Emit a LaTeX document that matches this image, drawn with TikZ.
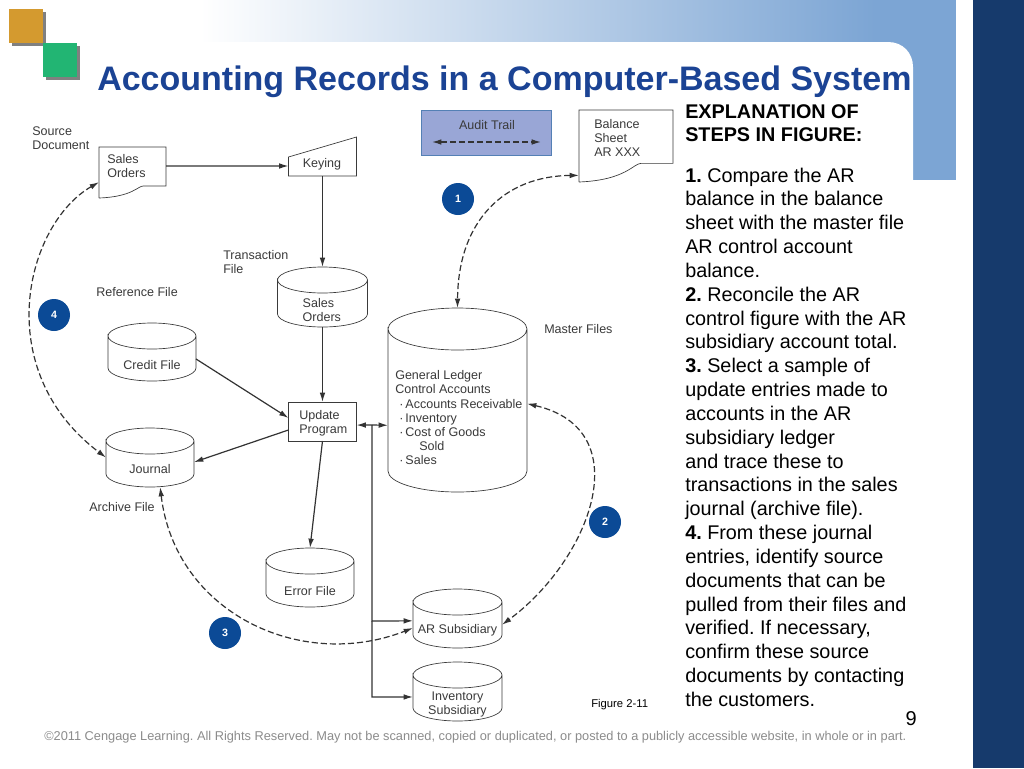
\documentclass[tikz,border=0pt]{standalone}
\usepackage{fontspec}
\setmainfont{Liberation Sans}
\usetikzlibrary{arrows.meta,calc}

\definecolor{barnavy}{HTML}{163A6C}
\definecolor{bandblue}{HTML}{7CA5D4}
\definecolor{titleblue}{HTML}{1B4394}
\definecolor{markblue}{HTML}{0B4A96}
\definecolor{trailblue}{HTML}{99A6D6}
\definecolor{inkgray}{HTML}{3A3A3A}
\definecolor{tileorange}{HTML}{D49A2F}
\definecolor{tilegreen}{HTML}{22B573}

\tikzset{
  figtext/.style={font=\fontsize{9.4}{10.6}\selectfont, text=inkgray, align=left, inner sep=0pt},
  sheet/.style={rectangle, inner sep=0pt, outer sep=0pt, figtext},
  dblabel/.style={figtext},
  boxed/.style={rectangle, draw=inkgray, line width=.7pt, inner sep=0pt, outer sep=0pt},
  outline/.style={draw=inkgray, line width=.5pt},
  flow/.style={-{Latex[length=7pt,width=4.2pt]}, line width=.9pt, draw=black!80},
  audit/.style={flow, dash pattern=on 4.6pt off 2.2pt},
  both/.style={{Latex[length=7pt,width=4.2pt]}-{Latex[length=7pt,width=4.2pt]}},
  stepmark/.style={circle, fill=markblue, text=white, minimum size=24pt, inner sep=0pt,
    font=\fontsize{8}{8}\bfseries\selectfont},
  body/.style={anchor=north west, inner sep=0pt, align=left, text=black,
    font=\fontsize{14.85}{17.87}\selectfont}
}

% outline of a document symbol, #2 is the height of the torn edge
\newcommand{\sheetline}[2]{
  \draw[outline] (#1.south west) -- (#1.north west) -- (#1.north east)
    -- ([yshift=#2]#1.south east) -- ($(#1.south west)!.66!(#1.south east)+(0,#2)$)
    .. controls ($(#1.south west)!.58!(#1.south east)+(0,#2)$)
    and ($(#1.south west)!.50!(#1.south east)+(0,.1*#2)$) .. (#1.south west);
}
% outline of a file drum, #2 and #3 are the radii of its ends
\newcommand{\drumline}[3]{
  \draw[outline] ([yshift=-#3]#1.north west)
    arc[start angle=180, end angle=0, x radius=#2, y radius=#3]
    arc[start angle=0, end angle=-180, x radius=#2, y radius=#3]
    -- ([yshift=#3]#1.south west)
    arc[start angle=180, end angle=360, x radius=#2, y radius=#3]
    -- ([yshift=-#3]#1.north east);
}

\begin{document}
\frenchspacing
\begin{tikzpicture}[x=.75pt,y=-.75pt]
  \useasboundingbox (0,0) rectangle (1024,768);
  \fill[white] (0,0) rectangle (1024,768);

  % slide background
  \fill[barnavy] (973,0) rectangle (1024,768);
  \shade[left color=white, right color=bandblue] (200,0) rectangle (875,41.7);
  \fill[bandblue] (875,0) rectangle (956,180);
  \fill[white] (875,42) -- (888,42) .. controls (903,42) and (913,53) .. (913,67) -- (913,180.5) -- (875,180.5) -- cycle;
  \fill[gray] (11.5,11.5) rectangle (45.5,45.5);
  \fill[tileorange] (9,9) rectangle (43,43);
  \fill[gray] (45.5,45.5) rectangle (79.5,79.5);
  \fill[tilegreen] (43,43) rectangle (77,77);

  \node[anchor=base west, inner sep=0pt, text=titleblue, font=\fontsize{25.5}{30}\bfseries\selectfont]
    (title) at (97,90) {Accounting Records in a Computer-Based System};

  % documents and boxes
  \node[sheet, minimum width=50.25pt, minimum height=38.25pt] (salesdoc) at (132.5,172.5) {};
  \node[sheet, minimum width=70.5pt, minimum height=54pt] (balance) at (626,146) {};
  \sheetline{salesdoc}{9pt}
  \sheetline{balance}{14pt}
  \node[figtext, anchor=north west] (salesdoctext) at (107,154) {Sales\\Orders};
  \node[figtext, anchor=north west] (balancetext) at (594,119) {Balance\\Sheet\\AR XXX};

  \node[sheet, minimum width=51pt, minimum height=29.25pt] (keying) at (322.5,156.5) {};
  \draw[outline] (keying.south west) -- ([yshift=14.25pt]keying.south west)
    -- (keying.north east) -- (keying.south east) -- cycle;
  \node[figtext] (keyingtext) at (322,164) {Keying};

  \node[boxed, minimum width=51pt, minimum height=29.25pt] (update) at (322.5,421.5) {};
  \node[figtext, anchor=north west] (updatetext) at (299,410) {Update\\Program};

  \node[rectangle, fill=trailblue, draw=markblue!70, line width=.5pt, minimum width=97.5pt, minimum height=33.75pt,
    inner sep=0pt] (trail) at (486,132.5) {};
  \node[figtext] (trailtext) at (487,125.5) {Audit Trail};
  \coordinate (trailleft) at (432,142);
  \coordinate (trailright) at (541,142);
  \draw[audit, both] (trailleft) -- (trailright);

  % files
  \node[sheet, minimum width=67.5pt, minimum height=45pt,
    label={[dblabel, yshift=-10pt, xshift=-.5pt]center:Sales\\Orders}] (salesfile) at (322.5,297) {};
  \node[sheet, minimum width=66pt, minimum height=43.5pt,
    label={[dblabel, yshift=-9.5pt]center:Credit File}] (credit) at (152,352) {};
  \node[sheet, minimum width=66pt, minimum height=44.25pt,
    label={[dblabel, yshift=-9pt]center:Journal}] (journal) at (150,457.5) {};
  \node[sheet, minimum width=66pt, minimum height=44.25pt,
    label={[dblabel, yshift=-10pt]center:Error File}] (error) at (310,577.5) {};
  \node[sheet, minimum width=104.25pt, minimum height=138pt] (master) at (457.5,400) {};
  \node[figtext, anchor=north west] (mastertext) at (395,370.5) {General Ledger\\Control Accounts\\
    \hspace{3pt}\textperiodcentered\hspace{1.5pt}Accounts Receivable\\
    \hspace{3pt}\textperiodcentered\hspace{1.5pt}Inventory\\
    \hspace{3pt}\textperiodcentered\hspace{1.5pt}Cost of Goods\\
    \hspace{18pt}Sold\\
    \hspace{3pt}\textperiodcentered\hspace{1.5pt}Sales};
  \node[sheet, minimum width=66.75pt, minimum height=44.25pt,
    label={[dblabel, yshift=-9pt]center:AR Subsidiary}] (arsub) at (457.5,618.5) {};
  \node[sheet, minimum width=66.75pt, minimum height=44.25pt,
    label={[dblabel, yshift=-9.5pt, align=center]center:Inventory\\Subsidiary}] (invsub) at (457.5,691.5) {};
  \drumline{salesfile}{33.75pt}{9.75pt}
  \drumline{credit}{33pt}{9.75pt}
  \drumline{journal}{33pt}{9.75pt}
  \drumline{error}{33pt}{9.75pt}
  \drumline{master}{52.125pt}{15.75pt}
  \drumline{arsub}{33.375pt}{9.75pt}
  \drumline{invsub}{33.375pt}{9.75pt}

  % captions
  \node[figtext, anchor=north west] (capsource) at (32,126) {Source\\Document};
  \node[figtext, anchor=north west] (captrans) at (223,250) {Transaction\\File};
  \node[figtext, anchor=north west] (capref) at (96,287) {Reference File};
  \node[figtext, anchor=north west] (caparchive) at (89,502) {Archive File};
  \node[figtext, anchor=north west] (capmaster) at (544,324) {Master Files};

  % flows
  \draw[flow] ([yshift=4.9pt]salesdoc.east) -- ([yshift=7.5pt]keying.south west);
  \draw[flow] (keying.south) -- (salesfile.north);
  \draw[flow] (salesfile.south) -- (update.north);
  \draw[flow] (credit.-9) -- (update.174);
  \draw[flow] (update.194) -- (journal.-6);
  \draw[flow] (update.south) -- (error.north);
  \coordinate (busstart) at (372,425);
  \coordinate (arjoin) at (372,621);
  \coordinate (invjoin) at (372,697);
  \draw[flow] (busstart) -- (update.-6);
  \draw[flow] (busstart) -- (master.200);
  \draw[flow] (busstart) -- (arjoin) -- (arsub.183);
  \draw[flow] (arjoin) -- (invjoin) -- (invsub.187);

  % audit trail curves
  \draw[audit, both] (balance.212)
    .. controls (505,176) and (458,220) .. (master.north);
  \draw[audit, both] (master.-3)
    .. controls (640,430) and (590,560) .. (arsub.-8);
  \draw[audit, both] (journal.-71)
    .. controls (175,612) and (300,672) .. (arsub.192);
  \draw[audit, both] (salesdoc.196)
    .. controls (25,225) and (-10,370) .. (journal.180);

  \node[stepmark] (mark1) at (458,199) {1};
  \node[stepmark] (mark2) at (605,522) {2};
  \node[stepmark] (mark3) at (225,633) {3};
  \node[stepmark] (mark4) at (54,315) {4};

  % explanation column
  \node[body, font=\fontsize{14.85}{17.87}\bfseries\selectfont] (explainhead) at (685,104) {EXPLANATION OF\\STEPS IN FIGURE:};
  \node[body] (explainsteps) at (685,167.5) {\textbf{1.} Compare the AR\\
    balance in the balance\\
    sheet with the master file\\
    AR control account\\
    balance.\\
    \textbf{2.} Reconcile the AR\\
    control figure with the AR\\
    subsidiary account total.\\
    \textbf{3.} Select a sample of\\
    update entries made to\\
    accounts in the AR\\
    subsidiary ledger\\
    and trace these to\\
    transactions in the sales\\
    journal (archive file).\\
    \textbf{4.} From these journal\\
    entries, identify source\\
    documents that can be\\
    pulled from their files and\\
    verified. If necessary,\\
    confirm these source\\
    documents by contacting\\
    the customers.};

  \node[anchor=base west, inner sep=0pt, font=\fontsize{8.45}{8.45}\selectfont] (figcap) at (591,707) {Figure 2-11};
  \node[anchor=base east, inner sep=0pt, font=\fontsize{15}{15}\selectfont] (pagenum) at (917,725) {9};
  \node[anchor=base west, inner sep=0pt, text=gray!90, font=\fontsize{9.59}{10}\selectfont] (footer) at (44,740)
    {©2011 Cengage Learning. All Rights Reserved. May not be scanned, copied or duplicated, or posted to a publicly accessible website, in whole or in part.};
\end{tikzpicture}
\end{document}
